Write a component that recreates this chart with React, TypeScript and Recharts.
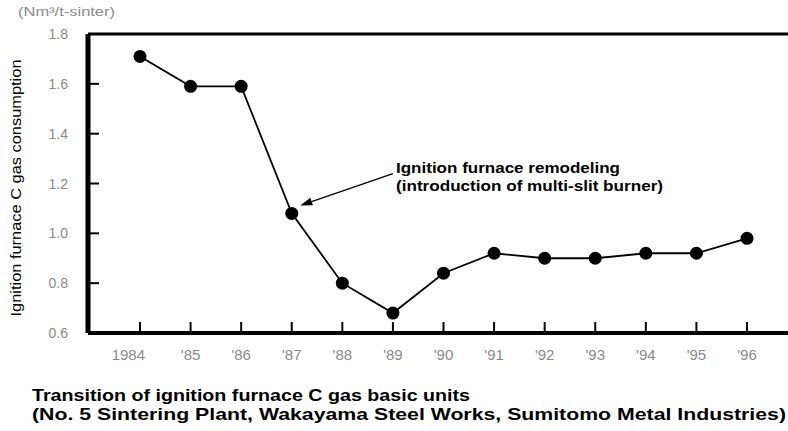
import { Line, LineChart, ReferenceLine, XAxis, YAxis } from 'recharts';

const years = ['1984', "'85", "'86", "'87", "'88", "'89", "'90", "'91", "'92", "'93", "'94", "'95", "'96"];
const gasUnits = [1.71, 1.59, 1.59, 1.08, 0.8, 0.68, 0.84, 0.92, 0.9, 0.9, 0.92, 0.92, 0.98];
const yTicks = [0.6, 0.8, 1.0, 1.2, 1.4, 1.6, 1.8];

const chartData = years.map((year, i) => ({ year, value: gasUnits[i] }));

const font = "'Liberation Sans', Arial, sans-serif";
const tickColor = '#8a8a8a';
const tickLen = 11;

// tick marks point inward (negative tickSize), so the labels are pushed back out here
const XTick = (props: any) => {
  const { x, y, payload, index } = props;
  const first = index === 0;
  return (
    <text
      x={first ? x + 5 : x}
      y={y + tickLen + 27}
      textAnchor={first ? 'end' : 'middle'}
      fontSize={15}
      fill={tickColor}
      fontFamily={font}
    >
      {payload.value}
    </text>
  );
};

const YTick = (props: any) => {
  const { x, y, payload } = props;
  return (
    <text x={x - tickLen - 20} y={y + 5} textAnchor="end" fontSize={14} fill={tickColor} fontFamily={font}>
      {payload.value.toFixed(1)}
    </text>
  );
};

const Arrow = (props: any) => {
  const { x1, y1, x2, y2 } = props;
  const dx = x2 - x1;
  const dy = y2 - y1;
  const len = Math.sqrt(dx * dx + dy * dy);
  const ux = dx / len;
  const uy = dy / len;
  // stop just before the dot
  const tx = x2 - ux * 9;
  const ty = y2 - uy * 9;
  const bx = tx - ux * 12;
  const by = ty - uy * 12;
  return (
    <g>
      <line x1={x1} y1={y1} x2={bx} y2={by} stroke="#000" strokeWidth={1.3} />
      <polygon
        points={`${tx},${ty} ${bx - uy * 4},${by + ux * 4} ${bx + uy * 4},${by - ux * 4}`}
        fill="#000"
      />
    </g>
  );
};

export default function App() {
  return (
    <div style={{ position: 'absolute', left: 0, top: 0, width: 788, height: 431, background: '#fff' }}>
      <LineChart width={788} height={431} data={chartData} margin={{ top: 34, right: 0, bottom: 68, left: 0 }}>
        <XAxis
          dataKey="year"
          height={30}
          padding={{ left: 52, right: 41 }}
          axisLine={{ stroke: '#000', strokeWidth: 4 }}
          tickLine={{ stroke: '#000', strokeWidth: 2 }}
          tickSize={-tickLen}
          tickMargin={0}
          tick={<XTick />}
          interval={0}
        />
        <YAxis
          width={88}
          domain={[0.6, 1.8]}
          ticks={yTicks}
          type="number"
          axisLine={{ stroke: '#000', strokeWidth: 5 }}
          tickLine={{ stroke: '#000', strokeWidth: 2 }}
          tickSize={-tickLen}
          tickMargin={0}
          tick={<YTick />}
          interval={0}
        />
        <ReferenceLine y={1.8} stroke="#000" strokeWidth={3} />
        <ReferenceLine
          segment={[
            { x: "'89", y: 1.24 },
            { x: "'87", y: 1.1 },
          ]}
          shape={<Arrow />}
        />
        <Line
          type="linear"
          dataKey="value"
          stroke="#000"
          strokeWidth={1.8}
          dot={{ r: 6.5, fill: '#000', stroke: '#000', strokeWidth: 0 }}
          isAnimationActive={false}
        />
      </LineChart>
      <svg
        width={788}
        height={431}
        style={{ position: 'absolute', left: 0, top: 0, pointerEvents: 'none' }}
        fontFamily={font}
      >
        <text x={18} y={16} fontSize={13} fill={tickColor} textLength={97} lengthAdjust="spacingAndGlyphs">
          (Nm³/t-sinter)
        </text>
        <text
          x={15}
          y={188}
          fontSize={15}
          fill="#000"
          textAnchor="middle"
          dominantBaseline="central"
          transform="rotate(-90 15 188)"
          textLength={257}
          lengthAdjust="spacingAndGlyphs"
        >
          Ignition furnace C gas consumption
        </text>
        <text x={396} y={173} fontSize={14} fontWeight="bold" fill="#000" textLength={224} lengthAdjust="spacingAndGlyphs">
          Ignition furnace remodeling
        </text>
        <text x={396} y={191} fontSize={14} fontWeight="bold" fill="#000" textLength={267} lengthAdjust="spacingAndGlyphs">
          (introduction of multi-slit burner)
        </text>
        <text x={32} y={401} fontSize={17} fontWeight="bold" fill="#000" textLength={438} lengthAdjust="spacingAndGlyphs">
          Transition of ignition furnace C gas basic units
        </text>
        <text x={32} y={420} fontSize={17} fontWeight="bold" fill="#000" textLength={754} lengthAdjust="spacingAndGlyphs">
          (No. 5 Sintering Plant, Wakayama Steel Works, Sumitomo Metal Industries)
        </text>
      </svg>
    </div>
  );
}
